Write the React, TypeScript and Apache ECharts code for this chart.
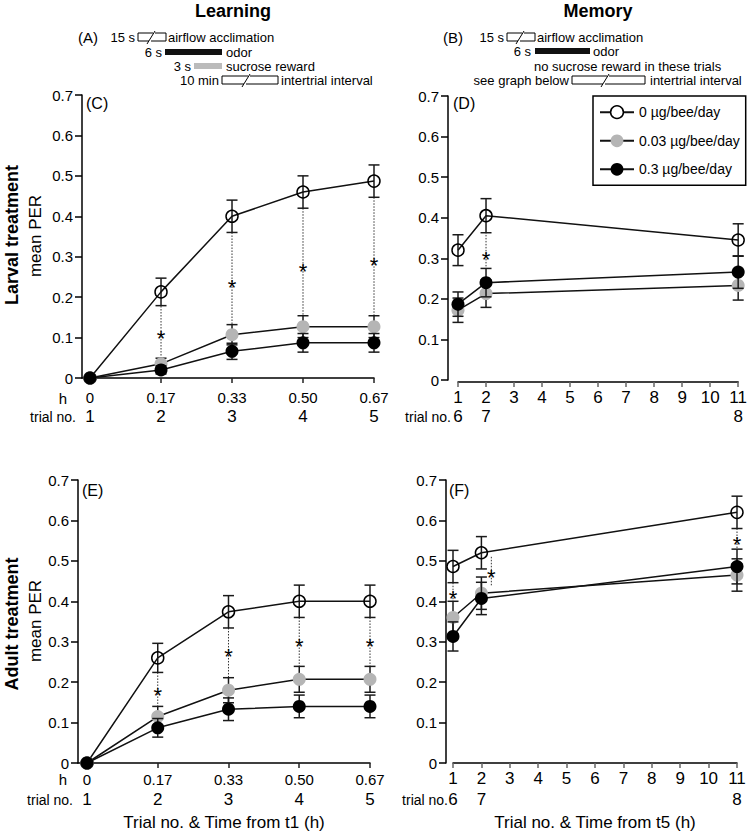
import React, { useEffect, useRef } from "react";
import * as echarts from "echarts";

const FONT = "'Liberation Sans', Arial, Helvetica, sans-serif";

// ---------- categories / ticks ----------
const seriesNames = ["0 µg/bee/day", "0.03 µg/bee/day", "0.3 µg/bee/day"];
const learningTrials = [1, 2, 3, 4, 5];
const learningHours = ["0", "0.17", "0.33", "0.50", "0.67"];
const memoryHours = [1, 2, 11];
const memoryTrials = [6, 7, 8];
const memoryTicks = [1, 2, 3, 4, 5, 6, 7, 8, 9, 10, 11];

// ---------- (C) larval treatment, learning ----------
const cCtrl = [0, 0.213, 0.4, 0.46, 0.487];
const cCtrlErr = [0, 0.034, 0.04, 0.04, 0.04];
const cLow = [0, 0.035, 0.107, 0.127, 0.127];
const cLowErr = [0, 0.014, 0.025, 0.027, 0.027];
const cHigh = [0, 0.02, 0.066, 0.087, 0.087];
const cHighErr = [0, 0.01, 0.02, 0.023, 0.023];
// [x, dotted top, dotted bottom, star]
const cSig = [
  [2, 0.178, 0.05, 0.11],
  [3, 0.36, 0.132, 0.236],
  [4, 0.42, 0.154, 0.276],
  [5, 0.447, 0.154, 0.29],
];

// ---------- (D) larval treatment, memory ----------
const dCtrl = [0.32, 0.405, 0.345];
const dCtrlErr = [0.038, 0.042, 0.04];
const dLow = [0.172, 0.213, 0.233];
const dLowErr = [0.03, 0.034, 0.036];
const dHigh = [0.187, 0.24, 0.266];
const dHighErr = [0.03, 0.035, 0.04];
const dSig = [[2, 0.365, 0.275, 0.31]];

// ---------- (E) adult treatment, learning ----------
const eCtrl = [0, 0.26, 0.374, 0.4, 0.4];
const eCtrlErr = [0, 0.036, 0.04, 0.04, 0.04];
const eLow = [0, 0.115, 0.18, 0.207, 0.207];
const eLowErr = [0, 0.025, 0.031, 0.032, 0.032];
const eHigh = [0, 0.087, 0.133, 0.14, 0.14];
const eHighErr = [0, 0.023, 0.028, 0.028, 0.028];
const eSig = [
  [2, 0.224, 0.14, 0.179],
  [3, 0.334, 0.211, 0.275],
  [4, 0.36, 0.239, 0.3],
  [5, 0.36, 0.239, 0.3],
];

// ---------- (F) adult treatment, memory ----------
const fCtrl = [0.486, 0.52, 0.62];
const fCtrlErr = [0.04, 0.04, 0.04];
const fLow = [0.36, 0.42, 0.465];
const fLowErr = [0.04, 0.04, 0.04];
const fHigh = [0.313, 0.407, 0.486];
const fHighErr = [0.036, 0.04, 0.043];
const fSig = [
  [1, 0.446, 0.4, 0.42],
  [2.35, 0.51, 0.436, 0.47],
  [11, 0.58, 0.529, 0.552],
];

const markerFill = ["rgba(255,255,255,0)", "#b5b5b5", "#000"];

type Panel = {
  kind: "learn" | "memory";
  grid: { left: number; top: number; width: number; height: number };
  xMin: number;
  xMax: number;
  yOffset: number;
  xOffset: number;
  labelMargin: number;
  lineH: number;
  means: number[][];
  errs: number[][];
  sig: number[][];
  axisName?: string;
};

const panels: Panel[] = [
  {
    kind: "learn",
    grid: { left: 82, top: 95, width: 292, height: 283 },
    xMin: 0.887, xMax: 5, yOffset: 0, xOffset: 0, labelMargin: 10, lineH: 19,
    means: [cCtrl, cLow, cHigh], errs: [cCtrlErr, cLowErr, cHighErr], sig: cSig,
  },
  {
    kind: "memory",
    grid: { left: 458, top: 96, width: 283, height: 284 },
    xMin: 1, xMax: 11, yOffset: 10, xOffset: 2, labelMargin: 6, lineH: 19,
    means: [dCtrl, dLow, dHigh], errs: [dCtrlErr, dLowErr, dHighErr], sig: dSig,
  },
  {
    kind: "learn",
    grid: { left: 78, top: 480, width: 292, height: 283 },
    xMin: 0.873, xMax: 5, yOffset: 0, xOffset: 0, labelMargin: 6, lineH: 20,
    means: [eCtrl, eLow, eHigh], errs: [eCtrlErr, eLowErr, eHighErr], sig: eSig,
    axisName: "Trial no. & Time from t1 (h)",
  },
  {
    kind: "memory",
    grid: { left: 453, top: 480, width: 284, height: 283 },
    xMin: 1, xMax: 11, yOffset: 7, xOffset: 0, labelMargin: 5, lineH: 21,
    means: [fCtrl, fLow, fHigh], errs: [fCtrlErr, fLowErr, fHighErr], sig: fSig,
    axisName: "Trial no. & Time from t5 (h)",
  },
];

function txt(
  text: string, x: number, y: number, size: number,
  align: "left" | "center" | "right" = "left", bold = false, rotation = 0
) {
  return {
    type: "text", x, y, rotation, silent: true,
    style: {
      text, fill: "#000",
      font: `${bold ? "bold " : ""}${size}px ${FONT}`,
      textAlign: align, textVerticalAlign: "middle",
      align, verticalAlign: "middle",
    },
  };
}

function brokenBox(x0: number, x1: number, yT: number, yB: number, xm: number) {
  const st = { stroke: "#000", lineWidth: 1, fill: "none" };
  return [
    { type: "polyline", silent: true, shape: { points: [[xm + 1, yT], [x0, yT], [x0, yB], [xm - 3, yB]] }, style: st },
    { type: "polyline", silent: true, shape: { points: [[xm + 3, yT], [x1, yT], [x1, yB], [xm - 1, yB]] }, style: st },
    { type: "line", silent: true, shape: { x1: xm - 5, y1: yB + 3, x2: xm + 3, y2: yT - 2 }, style: st },
  ];
}

function buildOption() {
  const grids: any[] = [];
  const xAxes: any[] = [];
  const yAxes: any[] = [];
  const series: any[] = [];

  panels.forEach((p, i) => {
    grids.push({ ...p.grid, containLabel: false });
    const isLearn = p.kind === "learn";
    const ticks = isLearn ? learningTrials : memoryTicks;
    xAxes.push({
      gridIndex: i,
      type: "value",
      min: p.xMin,
      max: p.xMax,
      offset: p.xOffset,
      axisLine: { show: true, onZero: false, lineStyle: { color: "#000", width: 1.5 } },
      axisTick: {
        show: true, customValues: ticks, length: 5,
        lineStyle: { color: isLearn ? "#222" : "#666", width: 1.5 },
      },
      axisLabel: {
        customValues: ticks,
        margin: p.labelMargin,
        color: "#000",
        fontFamily: FONT,
        formatter: (v: number) => {
          if (isLearn) {
            const k = learningTrials.indexOf(Math.round(v));
            return `{h|${learningHours[k]}}\n{t|${learningTrials[k]}}`;
          }
          const k = memoryHours.indexOf(Math.round(v));
          return k >= 0 ? `{h|${Math.round(v)}}\n{t|${memoryTrials[k]}}` : `{h|${Math.round(v)}}`;
        },
        rich: {
          h: { fontSize: isLearn ? 15 : 17, lineHeight: p.lineH, fontFamily: FONT, color: "#000" },
          t: { fontSize: 17, lineHeight: p.lineH, fontFamily: FONT, color: "#000" },
        },
      },
      splitLine: { show: false },
      name: p.axisName || "",
      nameLocation: "middle",
      nameGap: 51,
      nameTextStyle: { fontSize: 17, color: "#000", fontFamily: FONT },
    });
    yAxes.push({
      gridIndex: i,
      type: "value",
      min: 0,
      max: 0.7,
      interval: 0.1,
      offset: p.yOffset,
      axisLine: { show: true, onZero: false, lineStyle: { color: "#000", width: 1.5 } },
      axisTick: { show: true, length: 7, lineStyle: { color: "#000", width: 1.5 } },
      axisLabel: {
        margin: 9, fontSize: 15, color: "#000", fontFamily: FONT,
        formatter: (v: number) => (v === 0 ? "0" : v.toFixed(1)),
      },
      splitLine: { show: false },
    });

    const xs = isLearn ? learningTrials : memoryHours;

    // significance markers (dotted line + star)
    series.push({
      type: "custom",
      xAxisIndex: i, yAxisIndex: i,
      z: 1, silent: true,
      data: p.sig,
      encode: { x: 0, y: [1, 2] },
      renderItem: (_params: any, api: any) => {
        const x = api.value(0);
        const a = api.coord([x, api.value(1)]);
        const b = api.coord([x, api.value(2)]);
        const s = api.coord([x, api.value(3)]);
        return {
          type: "group",
          children: [
            {
              type: "line",
              shape: { x1: a[0], y1: a[1], x2: b[0], y2: b[1] },
              style: { stroke: "#333", lineWidth: 1, lineDash: [1.5, 1.5] },
            },
            {
              type: "text",
              x: s[0], y: s[1] + 5,
              style: {
                text: "*", fill: "#000", font: `22px ${FONT}`,
                textAlign: "center", textVerticalAlign: "middle",
                align: "center", verticalAlign: "middle",
              },
            },
          ],
        };
      },
    });

    // error bars + lines for each dose
    [0, 1, 2].forEach((s) => {
      const mean = p.means[s];
      const err = p.errs[s];
      series.push({
        type: "custom",
        xAxisIndex: i, yAxisIndex: i,
        z: 2 + s, silent: true,
        data: xs.map((x, j) => [x, mean[j] - err[j], mean[j] + err[j]]).filter((d, j) => err[j] > 0),
        encode: { x: 0, y: [1, 2] },
        renderItem: (_params: any, api: any) => {
          const x = api.value(0);
          const lo = api.coord([x, api.value(1)]);
          const hi = api.coord([x, api.value(2)]);
          const w = 5.5;
          const st = { stroke: "#1a1a1a", lineWidth: 1.5 };
          return {
            type: "group",
            children: [
              { type: "line", shape: { x1: lo[0], y1: lo[1], x2: hi[0], y2: hi[1] }, style: st },
              { type: "line", shape: { x1: lo[0] - w, y1: lo[1], x2: lo[0] + w, y2: lo[1] }, style: st },
              { type: "line", shape: { x1: hi[0] - w, y1: hi[1], x2: hi[0] + w, y2: hi[1] }, style: st },
            ],
          };
        },
      });
      series.push({
        type: "line",
        name: seriesNames[s],
        xAxisIndex: i, yAxisIndex: i,
        z: 2 + s,
        data: xs.map((x, j) => [x, mean[j]]),
        symbol: "circle",
        symbolSize: s === 0 ? 12 : 13,
        showSymbol: true,
        lineStyle: { color: "#111", width: 1.5 },
        itemStyle: {
          color: markerFill[s],
          borderColor: s === 0 ? "#000" : markerFill[s],
          borderWidth: s === 0 ? 1.5 : 0,
        },
        emphasis: { disabled: true },
      });
    });
  });

  const graphics: any[] = [
    txt("Learning", 233, 11, 18, "center", true),
    txt("Memory", 598, 11, 18, "center", true),
    // (A) protocol
    txt("(A)", 78, 37, 15),
    txt("15 s", 135, 37, 13, "right"),
    ...brokenBox(138, 166, 33, 41, 152),
    txt("airflow acclimation", 168, 37, 13),
    txt("6 s", 162, 52, 13, "right"),
    { type: "rect", silent: true, shape: { x: 165, y: 49, width: 57, height: 6 }, style: { fill: "#111" } },
    txt("odor", 226, 52, 13),
    txt("3 s", 191, 66, 13, "right"),
    { type: "rect", silent: true, shape: { x: 194, y: 63, width: 28, height: 6 }, style: { fill: "#bbb" } },
    txt("sucrose reward", 226, 66, 13),
    txt("10 min", 219, 80, 13, "right"),
    ...brokenBox(222, 278, 76, 84, 247),
    txt("intertrial interval", 281, 80, 13),
    // (B) protocol
    txt("(B)", 443, 37, 15),
    txt("15 s", 504, 37, 13, "right"),
    ...brokenBox(507, 535, 33, 41, 521),
    txt("airflow acclimation", 537, 37, 13),
    txt("6 s", 531, 51, 13, "right"),
    { type: "rect", silent: true, shape: { x: 535, y: 48, width: 55, height: 6 }, style: { fill: "#111" } },
    txt("odor", 593, 51, 13),
    txt("no sucrose reward in these trials", 534, 66, 13),
    txt("see graph below", 569, 80, 13, "right"),
    ...brokenBox(572, 645, 76, 84, 606),
    txt("intertrial interval", 650, 80, 13),
    // panel letters
    txt("(C)", 86, 103, 16),
    txt("(D)", 453, 103, 16),
    txt("(E)", 82, 490, 16),
    txt("(F)", 449, 490, 16),
    // y-axis titles
    txt("Larval treatment", 12, 235, 18, "center", true, Math.PI / 2),
    txt("mean PER", 35, 236, 17, "center", false, Math.PI / 2),
    txt("Adult treatment", 12, 624, 18, "center", true, Math.PI / 2),
    txt("mean PER", 35, 621, 17, "center", false, Math.PI / 2),
    // x-axis row captions
    txt("h", 63, 398, 15, "center"),
    txt("trial no.", 76, 417, 14, "right"),
    txt("trial no.", 451, 417, 14, "right"),
    txt("h", 63, 779, 15, "center"),
    txt("trial no.", 73, 800, 14, "right"),
    txt("trial no.", 448, 800, 14, "right"),
  ];

  return {
    animation: false,
    backgroundColor: "#fff",
    textStyle: { fontFamily: FONT },
    grid: grids,
    xAxis: xAxes,
    yAxis: yAxes,
    legend: {
      left: 593,
      top: 96,
      orient: "vertical",
      selectedMode: false,
      borderColor: "#000",
      borderWidth: 1.5,
      padding: [9, 6, 9, 6],
      itemGap: 14.5,
      itemWidth: 34,
      itemHeight: 16,
      itemTextGap: 3,
      textStyle: { fontSize: 14, color: "#000", fontFamily: FONT },
      data: [
        { name: seriesNames[0], itemStyle: { color: "#fff", borderColor: "#000", borderWidth: 1.5 } },
        { name: seriesNames[1] },
        { name: seriesNames[2] },
      ],
    },
    series,
    graphic: { elements: graphics },
  };
}

export default function App() {
  const ref = useRef<HTMLDivElement>(null);
  useEffect(() => {
    if (!ref.current) return;
    const chart = echarts.init(ref.current, null, { renderer: "svg" });
    chart.setOption(buildOption() as any);
    return () => chart.dispose();
  }, []);
  return (
    <div
      ref={ref}
      style={{ position: "absolute", left: 0, top: 0, width: 750, height: 834, background: "#fff" }}
    />
  );
}
